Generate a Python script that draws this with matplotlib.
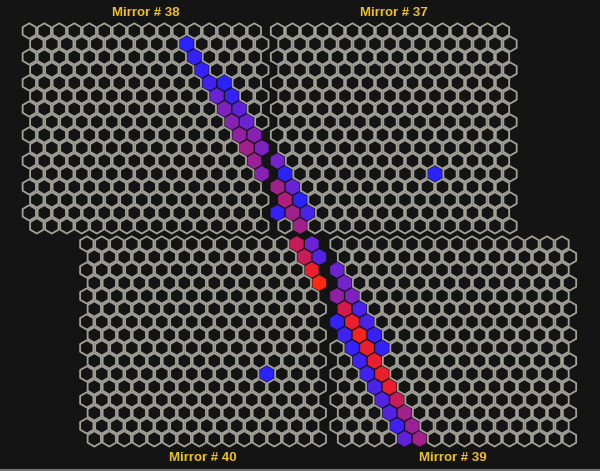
import numpy as np
import matplotlib
matplotlib.use("Agg")
import matplotlib.pyplot as plt
from matplotlib.patches import RegularPolygon
from matplotlib.collections import PatchCollection
from matplotlib.colors import LinearSegmentedColormap

# ---------------- data ----------------
n_rows = 16
n_cols = 16
mirror_ids = [38, 37, 40, 39]
mirror_labels = ["Mirror # 38", "Mirror # 37", "Mirror # 40", "Mirror # 39"]

# lit pixels per mirror: row, column, signal value (0 = blue ... 1 = red)
m38_rows = [1, 2, 3, 4, 4, 5, 5, 6, 6, 7, 7, 8, 8, 9, 9, 10, 11]
m38_cols = [10, 11, 11, 12, 13, 12, 13, 13, 14, 13, 14, 14, 15, 14, 15, 15, 15]
m38_vals = [0.0, 0.05, 0.05, 0.1, 0.0, 0.3, 0.05, 0.4, 0.25, 0.45, 0.3, 0.5, 0.45, 0.6, 0.4, 0.55, 0.45]

m37_rows = [10, 11, 12, 12, 13, 13, 14, 14, 14, 15, 11]
m37_cols = [0, 0, 0, 1, 0, 1, 0, 1, 2, 1, 10]
m37_vals = [0.35, 0.0, 0.6, 0.3, 0.65, 0.0, 0.05, 0.6, 0.15, 0.6, 0.0]

m40_rows = [0, 0, 1, 1, 2, 3, 10]
m40_cols = [14, 15, 14, 15, 15, 15, 12]
m40_vals = [0.75, 0.3, 0.75, 0.2, 0.9, 1.0, 0.0]

m39_rows = [2, 3, 4, 4, 5, 5, 6, 6, 6, 7, 7, 7, 8, 8, 8, 9, 9, 10, 10, 11, 11, 12, 12, 13, 13, 14, 14, 15, 15]
m39_cols = [0, 0, 0, 1, 0, 1, 0, 1, 2, 0, 1, 2, 1, 2, 3, 1, 2, 2, 3, 2, 3, 3, 4, 3, 4, 4, 5, 4, 5]
m39_vals = [0.3, 0.35, 0.5, 0.4, 0.8, 0.15, 0.05, 0.9, 0.15, 0.1, 0.95, 0.05, 0.05, 0.9, 0.05,
            0.1, 0.9, 0.1, 0.9, 0.15, 0.9, 0.2, 0.75, 0.2, 0.6, 0.1, 0.55, 0.25, 0.6]

hits = {
    38: (m38_rows, m38_cols, m38_vals),
    37: (m37_rows, m37_cols, m37_vals),
    40: (m40_rows, m40_cols, m40_vals),
    39: (m39_rows, m39_cols, m39_vals),
}

# ---------------- layout / style ----------------
origins = {38: (29.3, 31.0), 37: (277.5, 31.0), 40: (86.8, 244.0), 39: (337.0, 244.0)}
pitch = 15.0
row_pitch = pitch * np.sqrt(3) / 2
bg = "#141414"
grid_col = "#a3a299"
label_col = "#f0c020"

cmap = LinearSegmentedColormap.from_list(
    "sig", [(0.0, "#2a22ff"), (0.35, "#7422cc"), (0.6, "#a2208a"),
            (0.85, "#e0183c"), (1.0, "#ff2a10")])


def center(mid, r, c):
    x0, y0 = origins[mid]
    return x0 + c * pitch + (pitch / 2 if r % 2 else 0.0), y0 + r * row_pitch


fig = plt.figure(figsize=(6.0, 4.71), dpi=100)
fig.patch.set_facecolor(bg)
ax = fig.add_axes([0, 0, 1, 1])
ax.set_facecolor(bg)
ax.set_xlim(0, 600)
ax.set_ylim(471, 0)
ax.axis("off")

for mid, lab in zip(mirror_ids, mirror_labels):
    rows, cols, vals = hits[mid]
    lit = set(zip(rows, cols))
    polys = []
    for r in range(n_rows):
        for c in range(n_cols):
            if (r, c) in lit:
                continue
            polys.append(RegularPolygon(center(mid, r, c), numVertices=6,
                                        radius=7.7, orientation=0))
    ax.add_collection(PatchCollection(polys, facecolor="none",
                                      edgecolor=grid_col, linewidth=1.3))
    fills = [RegularPolygon(center(mid, r, c), numVertices=6, radius=7.9,
                            orientation=0) for r, c in zip(rows, cols)]
    pc = PatchCollection(fills, cmap=cmap, linewidth=0)
    pc.set_array(np.array(vals))
    pc.set_clim(0, 1)
    ax.add_collection(pc)

    x0, y0 = origins[mid]
    cx = x0 + (n_cols - 1) * pitch / 2 + pitch / 4
    if y0 < 100:
        ty = y0 - 18
    else:
        ty = y0 + (n_rows - 1) * row_pitch + 19.5
    ax.text(cx, ty, lab, ha="center", va="center", color=label_col,
            fontsize=9.5, fontweight="bold", family=["Liberation Sans", "DejaVu Sans"])

ax.axhline(470, color="#8a8a8a", linewidth=1.2)

fig.savefig("out.png", dpi=100, facecolor=bg)
